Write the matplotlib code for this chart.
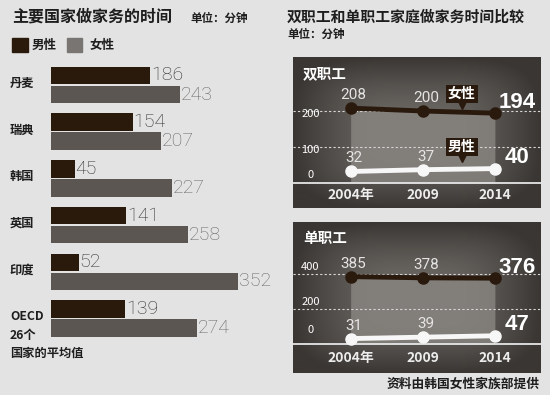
# -*- coding: utf-8 -*-
# housework time: countries (left) and dual / single income households (right)
import numpy as np
import matplotlib.pyplot as plt
from matplotlib.patches import Rectangle
from matplotlib.colors import to_rgb

countries = ['丹麦', '瑞典', '韩国', '英国', '印度', 'OECD\n26个\n国家的平均值']
male_min = [186, 154, 45, 141, 52, 139]
female_min = [243, 207, 227, 258, 352, 274]

years = [2004, 2009, 2014]
year_labels = ['2004年', '2009', '2014']
dual_female = [208, 200, 194]
dual_male = [32, 37, 40]
single_female = [385, 378, 376]
single_male = [31, 39, 47]

W, H = 550, 395
CJK = ['Noto Sans CJK SC', 'DejaVu Sans']
NUM = ['Roboto', 'Liberation Sans', 'DejaVu Sans']
NARROW = ['Liberation Sans Narrow', 'Noto Sans CJK SC', 'DejaVu Sans']
DARK = '#2a1a0c'
GRAY = '#5b5651'

fig = plt.figure(figsize=(W / 100, H / 100), dpi=100)
fig.patch.set_facecolor('#e3e3e3')


def fx(x):
    return x / W


def fy(y):
    return 1 - y / H


def px_axes(x0, y0, x1, y1):
    return fig.add_axes([fx(x0), fy(y1), (x1 - x0) / W, (y1 - y0) / H])


# ---------------- left: bar chart ----------------
fig.text(fx(12), fy(17), '主要国家做家务的时间', family=CJK, weight='bold',
         fontsize=11.5, color='#1e1e1e', va='center')
fig.text(fx(190), fy(18), '单位：分钟', family=CJK, weight='bold',
         fontsize=8.3, color='#1e1e1e', va='center')
fig.add_artist(Rectangle((fx(12), fy(52)), 16 / W, 14 / H, color=DARK,
                         transform=fig.transFigure))
fig.text(fx(32), fy(45), '男性', family=CJK, weight='bold', fontsize=9,
         color='#1e1e1e', va='center')
fig.add_artist(Rectangle((fx(67), fy(52)), 15 / W, 14 / H, color='#787573',
                         transform=fig.transFigure))
fig.text(fx(90), fy(45), '女性', family=CJK, weight='bold', fontsize=9,
         color='#1e1e1e', va='center')

scale = 0.532  # px per minute
ax = px_axes(51, 60, 290, 345)
ax.set_xlim(0, (290 - 51) / scale)
ax.set_ylim(345, 60)
ax.axis('off')

step = 46.7
y_m = [75.5 + i * step for i in range(len(countries))]
y_f = [y + 19 for y in y_m]
ax.barh(y_m, male_min, height=17.5, color=DARK)
ax.barh(y_f, female_min, height=17.5, color=GRAY)
for ym, yf, m, f in zip(y_m, y_f, male_min, female_min):
    ax.text(m + 1.5, ym, str(m), family=NUM, weight='light', fontsize=14,
            color='#2e2e2e', va='center', ha='left')
    ax.text(f + 1.5, yf, str(f), family=NUM, weight='light', fontsize=14,
            color='#66666a', va='center', ha='left')

for name, ym, yf in zip(countries, y_m, y_f):
    yc = (ym + yf) / 2 - 1.5
    for k, line in enumerate(name.split('\n')):
        fig.text(fx(10), fy(yc + k * 18), line, family=CJK, weight='bold',
                 fontsize=8.8, color='#1e1e1e', va='center', ha='left')

# ---------------- right: two line panels ----------------
fig.text(fx(287), fy(17), '双职工和单职工家庭做家务时间比较', family=CJK,
         weight='bold', fontsize=10.7, color='#1e1e1e', va='center')
fig.text(fx(287), fy(34), '单位：分钟', family=CJK, weight='bold',
         fontsize=8.3, color='#1e1e1e', va='center')
fig.text(fx(540), fy(384), '资料由韩国女性家族部提供', family=CJK,
         weight='bold', fontsize=9.2, color='#1e1e1e', va='center', ha='right')


def vignette(ax, xlim, ylim):
    ny, nx = 150, 250
    yy, xx = np.mgrid[0:1:ny * 1j, 0:1:nx * 1j]
    d = (np.abs(2 * xx - 1) ** 4 + np.abs(2 * yy - 1) ** 4) ** 0.25
    t = np.clip((d - 0.3) / 0.7, 0, 1) ** 1.3
    c0 = np.array(to_rgb('#67635f'))
    c1 = np.array(to_rgb('#3a3633'))
    img = c0 + (c1 - c0) * t[..., None]
    ax.imshow(img, extent=[xlim[0], xlim[1], ylim[0], ylim[1]],
              aspect='auto', zorder=0, origin='lower', interpolation='bilinear')


def panel(box, ylim, female, male, title, grid, tick_off, zero_off, tick_y,
          callouts):
    ax = px_axes(*box)
    xlim = (2000, 2017.2)
    vignette(ax, xlim, ylim)
    ax.set_xlim(*xlim)
    ax.set_ylim(*ylim)
    ax.axis('off')

    ax.fill_between(years, female, 0, color='#8a8682', alpha=0.8, zorder=1,
                    linewidth=0)
    for g in grid:
        ax.axhline(g, color='#d8d8d8', lw=0.8, ls=(0, (2, 2)), zorder=2)
    ax.axhline(0, color='#e6e6e6', lw=1.3, zorder=2)

    ax.plot(years, female, color='#2a1a0e', lw=3.5, marker='o', ms=8,
            zorder=4)
    ax.plot(years, male, color='#f7f7f7', lw=3.5, marker='o', ms=8,
            zorder=4)

    for vals in (female, male):
        for x, v in zip(years[:2], vals[:2]):
            ax.annotate(str(v), (x, v), xytext=(3, 13),
                        textcoords='offset pixels', ha='center', va='center',
                        family=NUM, fontsize=11, color='#e4e4e4', zorder=5)
        ax.annotate(str(vals[-1]), (years[-1], vals[-1]), xytext=(22, 11),
                    textcoords='offset pixels', ha='center', va='center',
                    family=['Liberation Sans', 'DejaVu Sans'], weight='bold',
                    fontsize=16, color='white', zorder=5)

    for g in list(grid) + [0]:
        off = zero_off if g == 0 else tick_off
        ax.annotate(str(g), (2001.2, g), xytext=(0, off),
                    textcoords='offset pixels', ha='center', va='center',
                    family=NARROW, fontsize=8, color='white', zorder=5)

    tr = ax.get_xaxis_transform()
    for x, lab in zip(years, year_labels):
        ax.text(x, tick_y, lab, transform=tr, ha='center', va='center',
                family=NARROW, weight='bold', fontsize=10, color='#ececec',
                zorder=5)

    ax.text(0.04, 0.895, title, transform=ax.transAxes, family=CJK,
            weight='bold', fontsize=10.5, color='white', va='center',
            ha='left', zorder=5)

    for lab, yb, ytip in callouts:
        ax.text(2011.7, yb, lab, family=CJK, weight='bold', fontsize=10,
                color='white', ha='center', va='center', zorder=6,
                bbox=dict(boxstyle='square,pad=0.15', fc='#2a1a0e', ec='none'))
        ax.plot([2011.7], [ytip], marker='v', ms=6, color='#2a1a0e', zorder=6)
    return ax


panel((293, 57, 541, 208), (-69.4, 350), dual_female, dual_male, '双职工',
      [200, 100], -3, 8, 0.085,
      [('女性', 247, 218), ('男性', 99, 70)])
panel((293, 222, 541, 373), (-165.7, 697), single_female, single_male,
      '单职工', [400, 200], 7, 14, 0.10, [])

fig.savefig('out.png', dpi=100, facecolor=fig.get_facecolor())
